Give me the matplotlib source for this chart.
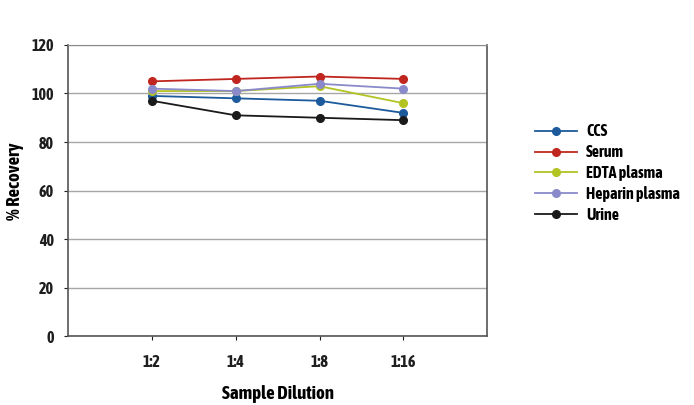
import matplotlib.pyplot as plt
import numpy as np

dilutions = ['1:2', '1:4', '1:8', '1:16']
ccs = [99, 98, 97, 92]
serum = [105, 106, 107, 106]
edta = [101, 101, 103, 96]
heparin = [102, 101, 104, 102]
urine = [97, 91, 90, 89]

series = [('CCS', ccs, '#1c5a9c'),
          ('Serum', serum, '#c0261f'),
          ('EDTA plasma', edta, '#b3c322'),
          ('Heparin plasma', heparin, '#8a8acb'),
          ('Urine', urine, '#1a1a1a')]

plt.rcParams['font.family'] = ['Asap Condensed', 'DejaVu Sans']
plt.rcParams['font.weight'] = 'bold'

fig = plt.figure(figsize=(6.94, 4.05), dpi=100)
ax = fig.add_axes([0.098, 0.170, 0.604, 0.719])

x = np.arange(1, len(dilutions) + 1)
for name, vals, col in series:
    ax.plot(x, vals, color=col, lw=1.3, marker='o', ms=5.5, label=name)

ax.set_xlim(0, 5)
ax.set_ylim(0, 120)
ax.set_yticks(range(0, 121, 20))
ax.set_xticks(x)
ax.set_xticklabels(dilutions)
ax.yaxis.grid(True, color='#a6a6a6', lw=1)
ax.set_axisbelow(True)
for s in ['left', 'right', 'bottom']:
    ax.spines[s].set_color('#555555')
    ax.spines[s].set_linewidth(1.2)
ax.spines['top'].set_color('#8c8c8c')
ax.tick_params(axis='both', labelsize=11.5, colors='#1e1e1e', length=3)
ax.tick_params(axis='x', pad=10)
ax.tick_params(axis='y', pad=7)
for lbl in ax.get_xticklabels() + ax.get_yticklabels():
    lbl.set_fontweight('bold')

ax.set_xlabel('Sample Dilution', fontsize=13.5, fontweight='bold', labelpad=11)
ax.set_ylabel('% Recovery', fontsize=13.5, fontweight='bold')
ax.yaxis.set_label_coords(-0.105, 0.533)

ax.legend(loc='center left', bbox_to_anchor=(1.08, 0.56), frameon=False,
          handlelength=2.6, labelspacing=0.3, handletextpad=0.6,
          prop={'family': ['Asap Condensed', 'DejaVu Sans'], 'weight': 'bold', 'size': 11.5})

fig.savefig('out.png', dpi=100)
